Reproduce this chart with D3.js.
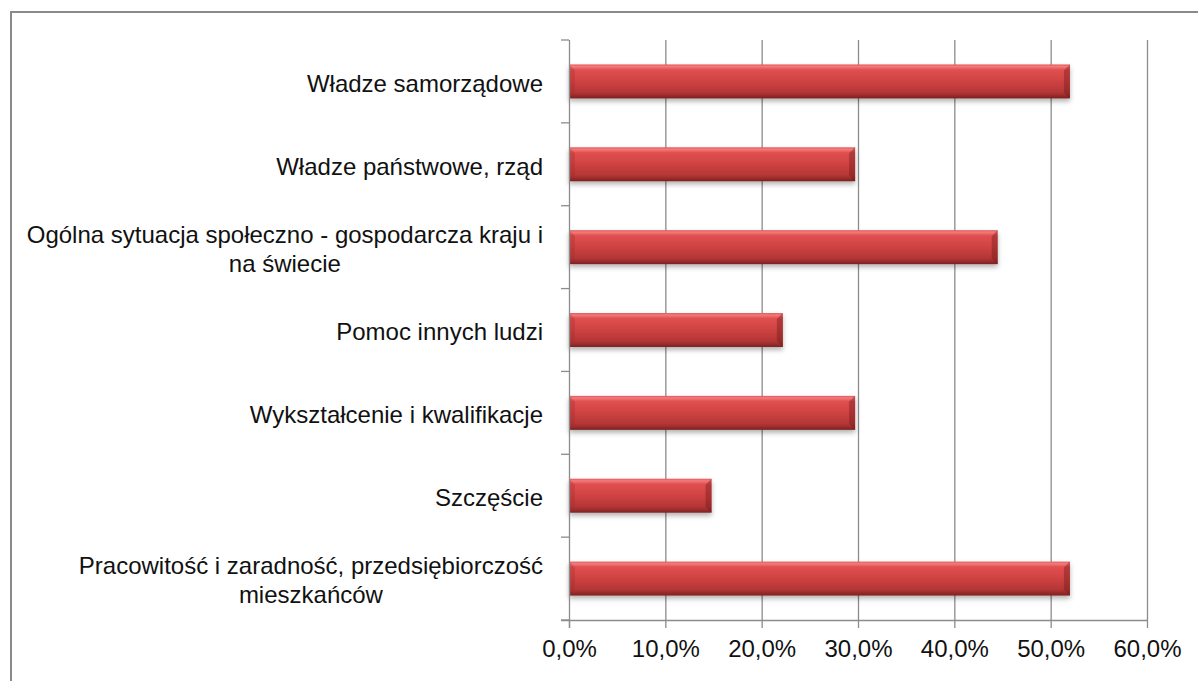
<!DOCTYPE html>
<html><head><meta charset="utf-8">
<script src="https://cdn.jsdelivr.net/npm/d3@7"></script>
<style>
html,body{margin:0;padding:0;background:#fff;}
svg{display:block;}
text{font-family:"Liberation Sans",Arial,sans-serif;}
</style></head>
<body>
<svg id="chart" width="1198" height="681"></svg>
<script>
const categories = [
  "Władze samorządowe",
  "Władze państwowe, rząd",
  "Ogólna sytuacja społeczno - gospodarcza kraju i\nna świecie",
  "Pomoc innych ludzi",
  "Wykształcenie i kwalifikacje",
  "Szczęście",
  "Pracowitość i zaradność, przedsiębiorczość\nmieszkańców"
];
const values = [52.0, 29.7, 44.5, 22.2, 29.7, 14.8, 52.0];
const xTicks = [0, 10, 20, 30, 40, 50, 60];
const xTickLabels = ["0,0%", "10,0%", "20,0%", "30,0%", "40,0%", "50,0%", "60,0%"];

const svg = d3.select("#chart");
const L = 569, R = 1147, T = 40, B = 620;

// outer frame (top + left only visible)
svg.append("line").attr("x1", 11).attr("x2", 1198).attr("y1", 12).attr("y2", 12)
  .attr("stroke", "#8a8a8a").attr("stroke-width", 2);
svg.append("line").attr("x1", 11).attr("x2", 11).attr("y1", 11).attr("y2", 681)
  .attr("stroke", "#8a8a8a").attr("stroke-width", 2);

const x = d3.scaleLinear().domain([0, 60]).range([L, R]);
const y = d3.scaleBand().domain(categories).range([T, B]).paddingInner(0.59).paddingOuter(0.295);
const step = (B - T) / categories.length;

const defs = svg.append("defs");
const grad = defs.append("linearGradient").attr("id", "barGrad")
  .attr("x1", 0).attr("x2", 0).attr("y1", 0).attr("y2", 1);
[[0, "#e05a5a"], [0.06, "#f47a7a"], [0.16, "#e05050"], [0.5, "#cf4242"], [0.82, "#b43636"], [0.93, "#962a2a"], [1, "#7a2020"]]
  .forEach(([o, c]) => grad.append("stop").attr("offset", o).attr("stop-color", c));
const f = defs.append("filter").attr("id", "shadow").attr("x", "-5%").attr("y", "-30%").attr("width", "110%").attr("height", "170%");
f.append("feDropShadow").attr("dx", 0).attr("dy", 3).attr("stdDeviation", 2.5)
  .attr("flood-color", "#000").attr("flood-opacity", 0.3);

// gridlines
svg.append("g").selectAll("line").data(xTicks.slice(1)).join("line")
  .attr("x1", d => x(d) + 0.5).attr("x2", d => x(d) + 0.5)
  .attr("y1", T).attr("y2", B)
  .attr("stroke", "#8c8c8c").attr("stroke-width", 1.3);

// bars
const data = categories.map((c, i) => ({ c, v: values[i] }));
const bars = svg.append("g").selectAll("g").data(data).join("g");
bars.append("rect")
  .attr("x", x(0)).attr("y", d => y(d.c))
  .attr("width", d => x(d.v) - x(0)).attr("height", y.bandwidth())
  .attr("fill", "url(#barGrad)").attr("filter", "url(#shadow)");
const bv = 6;
// left bevel face
bars.append("path").attr("d", d => {
  const x0 = x(0), y0 = y(d.c), y1 = y0 + y.bandwidth();
  return `M${x0},${y0}L${x0 + bv},${y0 + bv}L${x0 + bv},${y1 - bv}L${x0},${y1}Z`;
}).attr("fill", "#9e2a2a").attr("opacity", 0.3);
// right bevel face
bars.append("path").attr("d", d => {
  const x1 = x(d.v), y0 = y(d.c), y1 = y0 + y.bandwidth();
  return `M${x1},${y0}L${x1 - bv},${y0 + bv}L${x1 - bv},${y1 - bv}L${x1},${y1}Z`;
}).attr("fill", "#6e1a1a").attr("opacity", 0.4);

// y axis line and ticks
svg.append("line").attr("x1", L + 0.5).attr("x2", L + 0.5).attr("y1", T).attr("y2", B + 8)
  .attr("stroke", "#8c8c8c").attr("stroke-width", 1.3);
svg.append("g").selectAll("line").data(d3.range(categories.length + 1)).join("line")
  .attr("x1", L - 8).attr("x2", L)
  .attr("y1", i => T + i * step).attr("y2", i => T + i * step)
  .attr("stroke", "#8c8c8c").attr("stroke-width", 1.3);

// x axis
const xAxis = d3.axisBottom(x).tickValues(xTicks).tickSize(8).tickPadding(12)
  .tickFormat((d, i) => xTickLabels[i]);
const gx = svg.append("g").attr("transform", `translate(0,${B})`).call(xAxis);
gx.select(".domain").attr("stroke", "#8c8c8c").attr("stroke-width", 1.3)
  .attr("d", `M${L - 8},0.5H${R}`);
gx.selectAll(".tick line").attr("stroke", "#8c8c8c").attr("stroke-width", 1.3);
gx.selectAll(".tick text").attr("font-size", 24).attr("fill", "#111")
  .attr("font-family", '"Liberation Sans", Arial, sans-serif');

// category labels
const lab = svg.append("g").selectAll("text").data(categories).join("text")
  .attr("font-size", 24).attr("fill", "#111").attr("text-anchor", "middle");
lab.each(function (c) {
  const lines = c.split("\n");
  const t = d3.select(this);
  const cy = y(c) + y.bandwidth() / 2 + 2;
  const lh = 29;
  const tmp = lines.map(l => {
    const s = t.append("tspan").text(l);
    const w = s.node().getComputedTextLength();
    s.remove();
    return w;
  });
  const maxW = d3.max(tmp);
  const cx = 543 - maxW / 2;
  lines.forEach((l, i) => {
    t.append("tspan").attr("x", cx)
      .attr("y", cy + (i - (lines.length - 1) / 2) * lh)
      .attr("dy", "0.35em").text(l);
  });
});
</script>
</body></html>
